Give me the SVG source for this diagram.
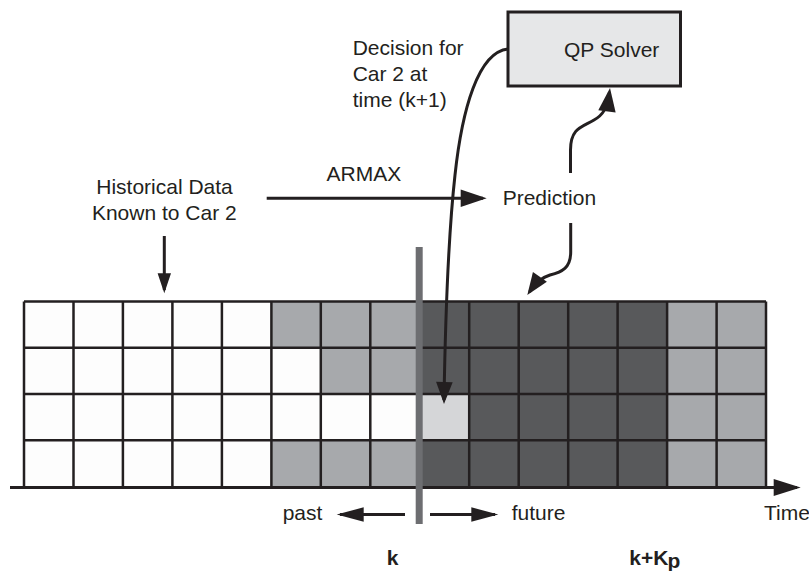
<svg xmlns="http://www.w3.org/2000/svg" width="809" height="571" viewBox="0 0 809 571">
<style>
text{font-family:"Liberation Sans",Arial,sans-serif;font-size:21px;fill:#231f20}
.b{font-weight:bold}
.ln{fill:none;stroke:#231f20;stroke-width:3}
.grid{fill:none;stroke:#231f20;stroke-width:2.5}
.head{fill:#231f20;stroke:none}
</style>
<defs>
<path id="ah" d="M0,0 L-1,-0.5 L-1,0.5 Z"/>
</defs>

<g id="timeline-grid">
<rect x="24" y="301.5" width="742" height="185.5" fill="#fdfdfd"/>
<g fill="#a7a9ac">
<rect x="271.4" y="301.5" width="148.4" height="46.2"/>
<rect x="320.8" y="347.7" width="99" height="46.3"/>
<rect x="271.4" y="440.3" width="148.4" height="46.7"/>
<rect x="667.1" y="301.5" width="98.9" height="185.5"/>
</g>
<rect x="419.8" y="301.5" width="247.3" height="185.5" fill="#58595b"/>
<rect x="419.8" y="394" width="49.4" height="46.3" fill="#d5d6d8"/>
<path class="grid" d="M24,301.5V487 M73.5,301.5V487 M122.9,301.5V487 M172.4,301.5V487 M221.9,301.5V487 M271.4,301.5V487 M320.8,301.5V487 M370.3,301.5V487 M419.8,301.5V487 M469.2,301.5V487 M518.7,301.5V487 M568.2,301.5V487 M617.6,301.5V487 M667.1,301.5V487 M716.6,301.5V487 M766,301.5V487 M24,301.5H766 M24,347.7H766 M24,394H766 M24,440.3H766"/>
</g>

<g id="qp-solver">
<rect x="508" y="12" width="172.5" height="74" fill="#e6e7e8" stroke="#231f20" stroke-width="3"/>
<text x="611.7" y="57" text-anchor="middle">QP Solver</text>
</g>

<g id="labels">
<text x="352.7" y="54.5">Decision for</text>
<text x="352.7" y="80.5">Car 2 at</text>
<text x="352.7" y="106.5">time (k+1)</text>
<text x="326.5" y="181">ARMAX</text>
<text x="502.7" y="205">Prediction</text>
<text x="164.5" y="194" text-anchor="middle">Historical Data</text>
<text x="164.3" y="220" text-anchor="middle">Known to Car 2</text>
<text x="282.7" y="520">past</text>
<text x="511.7" y="520">future</text>
<text x="764" y="520">Time</text>
<text class="b" x="386.7" y="565" font-size="19">k</text>
<text class="b" x="629.3" y="565" font-size="19">k+K</text>
<text class="b" x="667.5" y="568" font-size="11">p</text>
</g>

<g id="connectors">
<path class="ln" stroke-width="4" d="M10,487.5H797"/>
<use href="#ah" class="head" transform="translate(800.7,487.5) scale(27,17)"/>
<path class="ln" d="M266.7,198.3H483"/>
<use href="#ah" class="head" transform="translate(486.7,198.3) scale(26,17.6)"/>
<path class="ln" d="M164.3,236V290"/>
<use href="#ah" class="head" transform="translate(164.3,293.3) rotate(90) scale(20,13.4)"/>
<path class="ln" d="M405,514.5H340"/>
<use href="#ah" class="head" transform="translate(336.7,514.5) rotate(180) scale(27,14.4)"/>
<path class="ln" d="M430,514.5H495"/>
<use href="#ah" class="head" transform="translate(498.3,514.5) scale(27,14.4)"/>
<path class="ln" d="M508,49 C478,52 462,110 455,175 C450,220 446,280 444,400"/>
<use href="#ah" class="head" transform="translate(444,404) rotate(91) scale(22,16.6)"/>
<path class="ln" d="M570.5,173 L570.5,150 C570.5,128 582,127 594,120 C603,115 607.5,108 609.5,92"/>
<use href="#ah" class="head" transform="translate(610,88) rotate(-82.6) scale(23.5,17.5)"/>
<path class="ln" d="M570.7,223 L570.7,252 C570.7,268 562,272 550,275 C544,277 538,280 529.5,292"/>
<use href="#ah" class="head" transform="translate(527.3,295) rotate(125) scale(22,17)"/>
</g>

<g id="now-marker">
<line x1="419.2" y1="247" x2="419.2" y2="524" stroke="#6d6e71" stroke-width="7"/>
</g>
</svg>
